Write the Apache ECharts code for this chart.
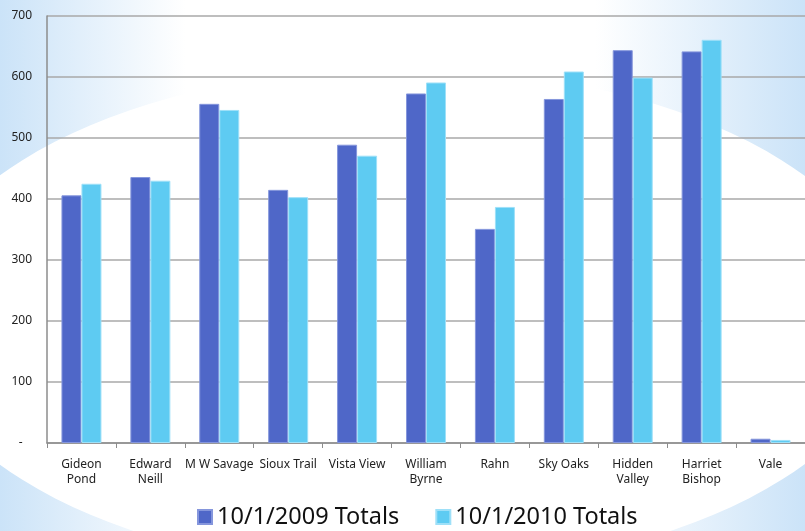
<!DOCTYPE html>
<html>
<head>
<meta charset="utf-8">
<script src="https://cdn.jsdelivr.net/npm/echarts@6/dist/echarts.min.js"></script>
<style>
html,body{margin:0;padding:0;background:#fff;}
#c{width:805px;height:531px;}
</style>
</head>
<body>
<div id="c"></div>
<script>
const categories = ['Gideon\nPond','Edward\nNeill','M W Savage','Sioux Trail','Vista View','William\nByrne','Rahn','Sky Oaks','Hidden\nValley','Harriet\nBishop','Vale'];
const totals2009 = [406, 436, 556, 415, 489, 573, 351, 564, 644, 642, 7];
const totals2010 = [425, 430, 546, 403, 471, 591, 387, 609, 599, 661, 5];
const yTicks = [0, 100, 700];
const seriesNames = ['10/1/2009 Totals', '10/1/2010 Totals'];

const chart = echarts.init(document.getElementById('c'), null, {renderer:'canvas'});
const font = '"Noto Sans", "Open Sans", sans-serif';
chart.setOption({
  backgroundColor: '#ffffff',
  animation: false,
  textStyle: {fontFamily: font},
  graphic: [
    {type: 'rect', z: -20, silent: true, shape: {x: 0, y: 0, width: 805, height: 531},
     style: {fill: new echarts.graphic.LinearGradient(0, 0, 1, 0, [
       {offset: 0, color: '#cbe3f8'}, {offset: 0.23, color: '#ffffff'},
       {offset: 0.74, color: '#ffffff'}, {offset: 1, color: '#cbe3f8'}])}},
    {type: 'circle', z: -19, silent: true, x: 402, y: 320, scaleX: 491/252, scaleY: 1,
     shape: {cx: 0, cy: 0, r: 252}, style: {fill: '#ffffff'}}
  ],
  grid: {left: 47, top: 16, right: -12, bottom: 88, containLabel: false},
  legend: {
    data: seriesNames,
    left: 192, top: 500,
    itemWidth: 14, itemHeight: 14, itemGap: 36,
    icon: 'rect',
    textStyle: {fontSize: 23.5, lineHeight: 24, color: '#111', fontFamily: font}
  },
  xAxis: {
    type: 'category',
    data: categories,
    axisLine: {lineStyle: {color: '#8c8c8c', width: 1.5}},
    axisTick: {show: true, length: 5, lineStyle: {color: '#8c8c8c'}},
    axisLabel: {color: '#222', fontSize: 12, margin: 14, lineHeight: 15, interval: 0, fontFamily: font}
  },
  yAxis: {
    type: 'value',
    min: yTicks[0], max: yTicks[2], interval: yTicks[1],
    axisLine: {show: true, lineStyle: {color: '#8c8c8c', width: 1.5}},
    axisTick: {show: false},
    splitLine: {lineStyle: {color: '#a9a9a9', width: 1.5}},
    axisLabel: {color: '#222', fontSize: 12, margin: 15, fontFamily: font,
      formatter: v => v === 0 ? '-   ' : String(v)}
  },
  series: [
    {name: seriesNames[0], type: 'bar', data: totals2009, barWidth: 20, barGap: '0%',
     itemStyle: {color: '#4f67c8', borderColor: '#8596dc', borderWidth: 1}},
    {name: seriesNames[1], type: 'bar', data: totals2010, barWidth: 20, barGap: '0%',
     itemStyle: {color: '#5ecbf2', borderColor: '#9ee0f8', borderWidth: 1}}
  ]
});
</script>
</body>
</html>
